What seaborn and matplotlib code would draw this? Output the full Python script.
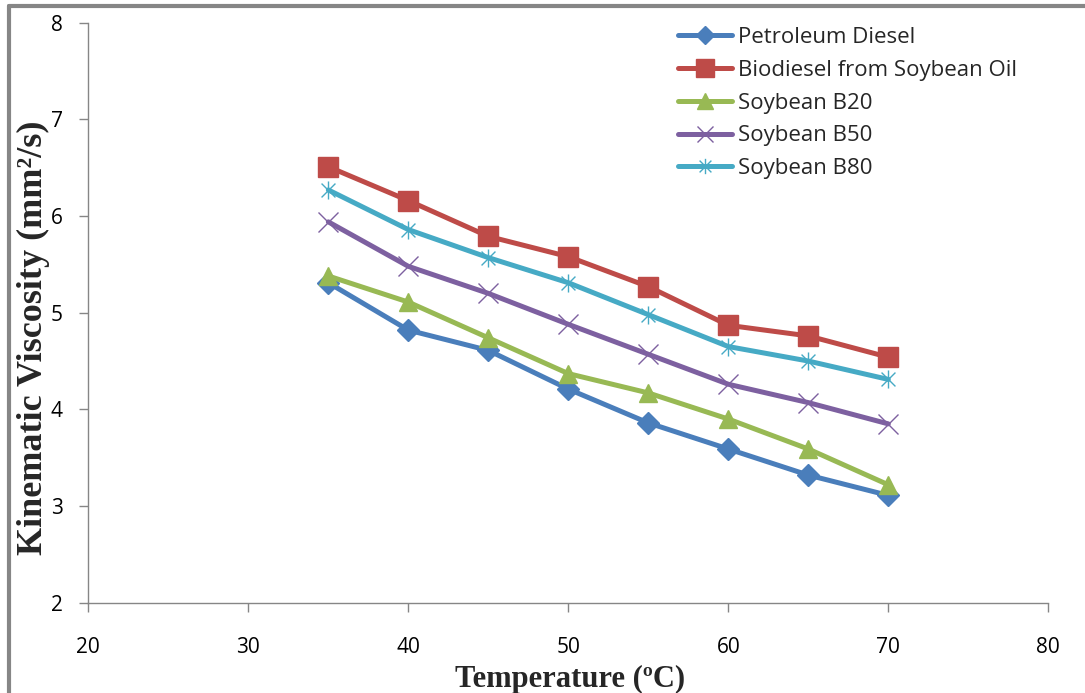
import matplotlib
matplotlib.use("Agg")
import matplotlib.pyplot as plt
from matplotlib.path import Path
from matplotlib.lines import Line2D
import seaborn as sns

# Data
temperature = [35, 40, 45, 50, 55, 60, 65, 70]
petroleum_diesel = [5.31, 4.82, 4.61, 4.21, 3.86, 3.59, 3.32, 3.11]
biodiesel_soy = [6.51, 6.16, 5.79, 5.58, 5.27, 4.87, 4.76, 4.54]
soy_b20 = [5.38, 5.11, 4.74, 4.37, 4.17, 3.90, 3.59, 3.22]
soy_b50 = [5.94, 5.48, 5.20, 4.88, 4.57, 4.26, 4.07, 3.85]
soy_b80 = [6.27, 5.86, 5.57, 5.31, 4.98, 4.65, 4.50, 4.31]

series_names = ["Petroleum Diesel", "Biodiesel from Soybean Oil",
                "Soybean B20", "Soybean B50", "Soybean B80"]
series_values = [petroleum_diesel, biodiesel_soy, soy_b20, soy_b50, soy_b80]
x_ticks = [20, 30, 40, 50, 60, 70, 80]
y_ticks = [2, 3, 4, 5, 6, 7, 8]

colors = ["#4A7EBB", "#BE4B48", "#98B954", "#7D60A0", "#46AAC5"]

# Excel style "star" marker: an x with a vertical stroke
star = Path([(-1, -1), (1, 1), (-1, 1), (1, -1), (0, -1.3), (0, 1.3)],
            [Path.MOVETO, Path.LINETO, Path.MOVETO, Path.LINETO, Path.MOVETO, Path.LINETO])
markers = ["D", "s", "^", "x", star]
marker_sizes = [11, 15, 13, 14, 13]

sns.set_style("white")
plt.rcParams["font.family"] = ["Open Sans", "DejaVu Sans"]

fig = plt.figure(figsize=(10.85, 6.93), dpi=100)
ax = fig.add_axes([0.0814, 0.1303, 0.8848, 0.8369])

for name, vals, color, mk, ms in zip(series_names, series_values, colors, markers, marker_sizes):
    sns.lineplot(x=temperature, y=vals, color=color, linewidth=3.6, marker=mk,
                 markersize=ms, markerfacecolor=color, markeredgecolor=color,
                 markeredgewidth=1, label=name, ax=ax)

ax.set_xlim(20, 80)
ax.set_ylim(2, 8)
ax.set_xticks(x_ticks)
ax.set_yticks(y_ticks)

for side in ["top", "right"]:
    ax.spines[side].set_visible(False)
for side in ["left", "bottom"]:
    ax.spines[side].set_color("#868686")
    ax.spines[side].set_linewidth(1)

ax.tick_params(axis="both", direction="out", length=6.5, width=1, color="#868686",
               labelsize=15, labelcolor="black", bottom=True, left=True)
ax.tick_params(axis="x", pad=18)
ax.tick_params(axis="y", pad=12)

ax.set_xlabel("Temperature (ºC)", family="Liberation Serif", fontweight="bold", fontsize=22)
ax.set_ylabel("Kinematic Viscosity (mm²/s)", family="Liberation Serif",
              fontweight="bold", fontsize=26)
ax.xaxis.set_label_coords(0.502, -0.107)
ax.yaxis.set_label_coords(-0.04, 0.456)

handles, labels = ax.get_legend_handles_labels()
ax.legend(handles, labels, loc="upper left", bbox_to_anchor=(0.6165, 0.9737),
          bbox_transform=fig.transFigure, frameon=False, fontsize=16,
          handlelength=2.45, handletextpad=0.27, labelspacing=0.53, borderaxespad=0,
          markerscale=0.85)

# outer grey frame (left and top visible in reference)
fig.add_artist(Line2D([0.0083, 0.0083], [0.0, 0.9913], color="#868686", lw=3,
                      transform=fig.transFigure))
fig.add_artist(Line2D([0.0083, 1.0], [0.9913, 0.9913], color="#868686", lw=3,
                      transform=fig.transFigure))

fig.savefig("out.png", dpi=100)
